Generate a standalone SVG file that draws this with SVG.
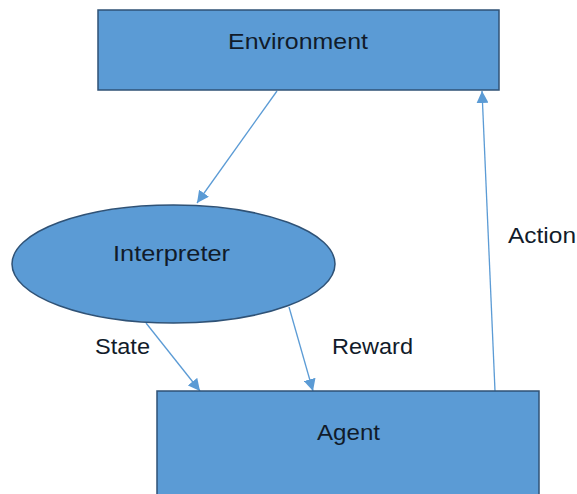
<svg xmlns="http://www.w3.org/2000/svg" width="577" height="494" viewBox="0 0 577 494">
<style>
.node{fill:#5B9BD5;stroke:#2F5276;stroke-width:1.5}
.lbl{font-family:"Liberation Sans",Arial,sans-serif;font-size:22.5px;fill:#111b2a;text-anchor:middle}
.edge{stroke:#5B9BD5;stroke-width:1.3;fill:none;marker-end:url(#ah)}
</style>
<defs>
<marker id="ah" viewBox="0 0 10 10" refX="10" refY="5" markerWidth="12" markerHeight="12" markerUnits="userSpaceOnUse" orient="auto">
<path d="M0,0 L10,5 L0,10 z" fill="#5B9BD5"/>
</marker>
</defs>
<rect width="577" height="494" fill="#ffffff"/>
<g id="connectors">
<line class="edge" x1="277" y1="91" x2="197" y2="203"/>
<line class="edge" x1="146" y1="323" x2="200" y2="391"/>
<line class="edge" x1="289" y1="307" x2="313" y2="391"/>
<line class="edge" x1="495" y1="391" x2="482" y2="91"/>
</g>
<g id="environment">
<rect class="node" x="98" y="10" width="401" height="80"/>
<text class="lbl" x="298" y="49" textLength="140" lengthAdjust="spacingAndGlyphs">Environment</text>
</g>
<g id="interpreter">
<ellipse class="node" cx="173.5" cy="264" rx="161.5" ry="59"/>
<text class="lbl" x="171.5" y="261" textLength="117" lengthAdjust="spacingAndGlyphs">Interpreter</text>
</g>
<g id="agent">
<rect class="node" x="157" y="391" width="382" height="110"/>
<text class="lbl" x="348.5" y="440" textLength="63" lengthAdjust="spacingAndGlyphs">Agent</text>
</g>
<g id="labels">
<text class="lbl" x="122.5" y="354" textLength="55" lengthAdjust="spacingAndGlyphs">State</text>
<text class="lbl" x="372.5" y="354" textLength="81" lengthAdjust="spacingAndGlyphs">Reward</text>
<text class="lbl" x="542" y="243" textLength="68" lengthAdjust="spacingAndGlyphs">Action</text>
</g>
</svg>
